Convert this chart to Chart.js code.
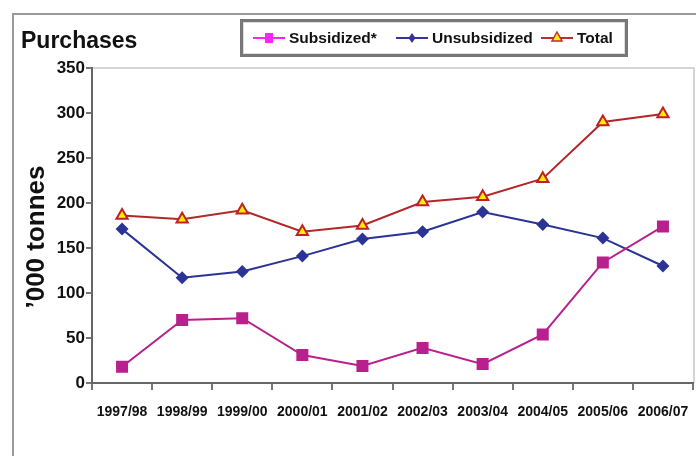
<!DOCTYPE html>
<html><head><meta charset="utf-8">
<script src="https://cdn.jsdelivr.net/npm/chart.js@4.4.1/dist/chart.umd.min.js"></script>
<style>html,body{margin:0;padding:0;background:#fff;overflow:hidden}#wrap{width:696px;height:456px;position:relative}</style>
</head><body><div id="wrap"><canvas id="c" width="696" height="456"></canvas></div>
<script>
const categories = ['1997/98','1998/99','1999/00','2000/01','2001/02','2002/03','2003/04','2004/05','2005/06','2006/07'];
const subsidized = [18, 70, 72, 31, 19, 39, 21, 54, 134, 174];
const unsubsidized = [171, 117, 124, 141, 160, 168, 190, 176, 161, 130];
const total = [186, 182, 192, 168, 175, 201, 207, 227, 290, 299];
const yMin = 0, yMax = 350, yStep = 50;
const chartTitle = 'Purchases';
const yTitle = '\u2019000 tonnes';
const seriesNames = ['Subsidized*', 'Unsubsidized', 'Total'];

const FONT = '"Liberation Sans", Arial, sans-serif';

const decor = {
  id: 'decor',
  beforeDraw(chart) {
    const ctx = chart.ctx, a = chart.chartArea;
    ctx.save();
    ctx.fillStyle = '#fff';
    ctx.fillRect(0, 0, chart.width, chart.height);
    ctx.strokeStyle = '#9a9a9a';
    ctx.lineWidth = 2;
    ctx.beginPath();
    ctx.moveTo(13, chart.height + 2);
    ctx.lineTo(13, 14);
    ctx.lineTo(chart.width + 2, 14);
    ctx.stroke();
    ctx.strokeStyle = '#c8c8c8';
    ctx.lineWidth = 1.5;
    ctx.beginPath();
    ctx.moveTo(a.left, a.top);
    ctx.lineTo(a.right + 1, a.top);
    ctx.lineTo(a.right + 1, a.bottom);
    ctx.stroke();
    ctx.restore();
  },
  afterDraw(chart) {
    const ctx = chart.ctx;
    ctx.save();
    ctx.fillStyle = '#111';
    ctx.font = 'bold 23px ' + FONT;
    ctx.textBaseline = 'alphabetic';
    ctx.textAlign = 'left';
    ctx.fillText(chartTitle, 21, 48);
    ctx.save();
    ctx.translate(37, 237);
    ctx.rotate(-Math.PI / 2);
    ctx.font = 'bold 26px ' + FONT;
    ctx.textAlign = 'center';
    ctx.textBaseline = 'middle';
    ctx.fillText(yTitle, 0, 0);
    ctx.restore();
    ctx.strokeStyle = '#777';
    ctx.lineWidth = 3;
    ctx.strokeRect(241.5, 20.5, 385, 35);
    ctx.strokeStyle = '#ddd';
    ctx.lineWidth = 1;
    ctx.strokeRect(243.5, 22.5, 381, 31);
    const items = [
      {x: 253, color: '#ff22ff', shape: 'rect'},
      {x: 396, color: '#333399', shape: 'diamond'},
      {x: 541, color: '#b83030', shape: 'tri'}
    ];
    const ly = 38;
    ctx.font = 'bold 15.5px ' + FONT;
    ctx.textAlign = 'left';
    ctx.textBaseline = 'middle';
    items.forEach((it, i) => {
      ctx.strokeStyle = it.color;
      ctx.lineWidth = 2;
      ctx.beginPath();
      ctx.moveTo(it.x, ly);
      ctx.lineTo(it.x + 32, ly);
      ctx.stroke();
      const cx = it.x + 16;
      ctx.fillStyle = it.color;
      if (it.shape === 'rect') {
        ctx.fillRect(cx - 4, ly - 5, 8, 10);
      } else if (it.shape === 'diamond') {
        ctx.beginPath();
        ctx.moveTo(cx, ly - 5); ctx.lineTo(cx + 3.5, ly); ctx.lineTo(cx, ly + 5); ctx.lineTo(cx - 3.5, ly);
        ctx.closePath(); ctx.fill();
      } else {
        ctx.beginPath();
        ctx.moveTo(cx, ly - 6); ctx.lineTo(cx + 5, ly + 3); ctx.lineTo(cx - 5, ly + 3);
        ctx.closePath();
        ctx.fillStyle = '#ffee00'; ctx.fill();
        ctx.strokeStyle = '#b83030'; ctx.lineWidth = 1.5; ctx.stroke();
      }
      ctx.fillStyle = '#111';
      ctx.fillText(seriesNames[i], it.x + 36, ly + 1);
    });
    ctx.restore();
  }
};

new Chart(document.getElementById('c'), {
  type: 'line',
  data: {
    labels: categories,
    datasets: [
      {label: seriesNames[0], data: subsidized, borderColor: '#b8208e', backgroundColor: '#b8208e',
       borderWidth: 2, pointStyle: 'rect', pointRadius: 8.5, pointBorderWidth: 0, pointBackgroundColor: '#b8208e'},
      {label: seriesNames[1], data: unsubsidized, borderColor: '#2b3494', backgroundColor: '#2b3494',
       borderWidth: 2, pointStyle: 'rectRot', pointRadius: 6.5, pointBorderWidth: 0, pointBackgroundColor: '#2b3494'},
      {label: seriesNames[2], data: total, borderColor: '#b22828', backgroundColor: '#ffee00',
       borderWidth: 2, pointStyle: 'triangle', pointRadius: 6.5, pointBorderWidth: 2,
       pointBorderColor: '#c02020', pointBackgroundColor: '#ffee00'}
    ]
  },
  options: {
    responsive: false,
    animation: false,
    events: [],
    layout: {autoPadding: false, padding: {top: 68, right: 3, left: 0, bottom: 0}},
    plugins: {legend: {display: false}, title: {display: false}, tooltip: {enabled: false}},
    elements: {line: {tension: 0}},
    scales: {
      x: {
        type: 'category',
        offset: true,
        grid: {offset: true, drawOnChartArea: false, drawTicks: true, tickLength: 7, color: '#777', lineWidth: 2},
        border: {display: true, color: '#666', width: 2},
        ticks: {color: '#111', font: {family: FONT, size: 14, weight: 'bold'}, padding: 14, maxRotation: 0, autoSkip: false},
        afterFit(s) { s.height = 73; s.paddingLeft = 0; s.paddingRight = 0; }
      },
      y: {
        min: yMin, max: yMax,
        grid: {drawOnChartArea: false, drawTicks: true, tickLength: 6, color: '#777', lineWidth: 2},
        border: {display: true, color: '#666', width: 2},
        ticks: {stepSize: yStep, color: '#111', font: {family: FONT, size: 17, weight: 'bold'}, padding: 1},
        afterFit(s) { s.width = 92; s.paddingTop = 0; s.paddingBottom = 0; }
      }
    }
  },
  plugins: [decor]
});
</script>
</body></html>
